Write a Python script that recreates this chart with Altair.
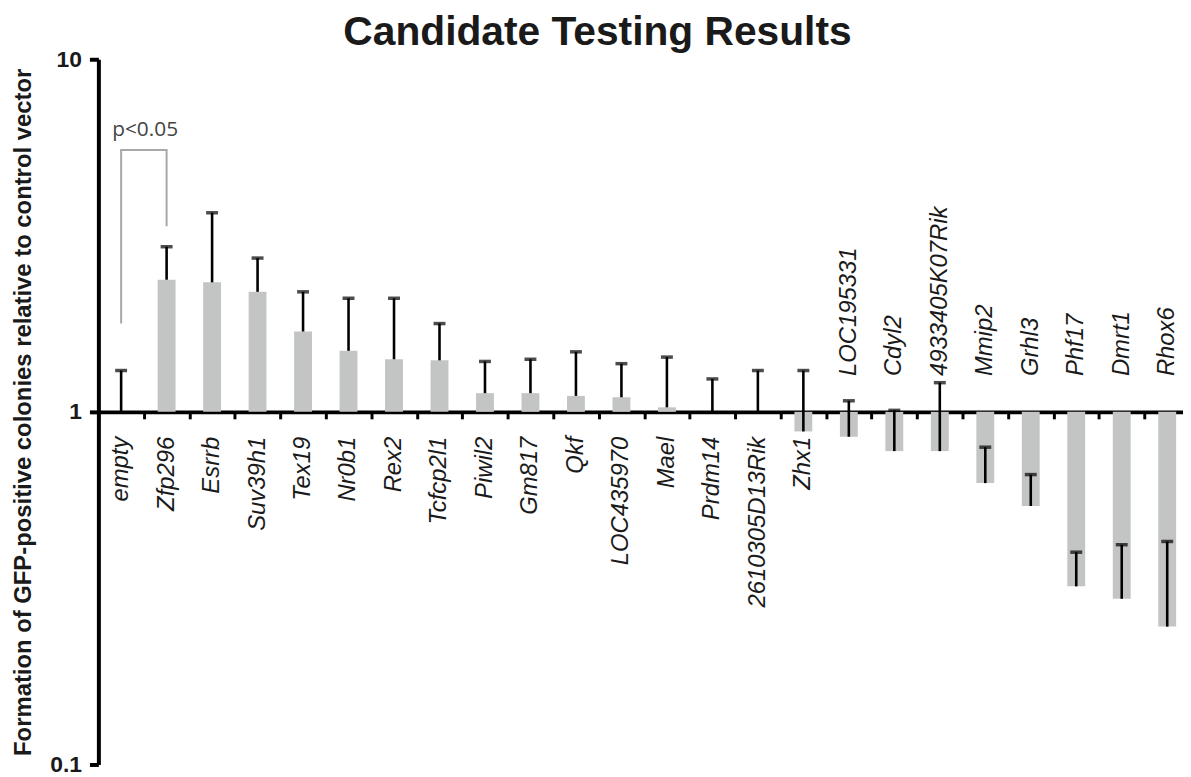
import altair as alt
import pandas as pd

genes = ["empty", "Zfp296", "Esrrb", "Suv39h1", "Tex19", "Nr0b1", "Rex2", "Tcfcp2l1",
         "Piwil2", "Gm817", "Qkf", "LOC435970", "Mael", "Prdm14", "2610305D13Rik", "Zhx1",
         "LOC195331", "Cdyl2", "4933405K07Rik", "Mmip2", "Grhl3", "Phf17", "Dmrt1", "Rhox6"]
values = [1.0, 2.37, 2.33, 2.19, 1.69, 1.49, 1.41, 1.40,
          1.13, 1.13, 1.11, 1.10, 1.03, 1.0, 1.0, 0.88,
          0.85, 0.774, 0.774, 0.628, 0.541, 0.32, 0.295, 0.246]
err_ends = [1.31, 2.94, 3.67, 2.73, 2.19, 2.10, 2.10, 1.78,
            1.39, 1.41, 1.48, 1.37, 1.43, 1.24, 1.31, 1.31,
            1.075, 1.01, 1.21, 0.794, 0.664, 0.40, 0.42, 0.429]
upper_label_genes = ["LOC195331", "Cdyl2", "4933405K07Rik", "Mmip2", "Grhl3", "Phf17", "Dmrt1", "Rhox6"]

bracket_x = ["empty", "empty", "Zfp296", "Zfp296"]
bracket_y = [1.78, 5.53, 5.53, 3.36]
bracket_order = [0, 1, 2, 3]
sig_text = "p<0.05"

df = pd.DataFrame({"gene": genes, "value": values, "err": err_ends, "base": [1.0] * len(genes)})
df["pos"] = ["upper" if g in upper_label_genes else "lower" for g in genes]
bracket = pd.DataFrame({"gene": bracket_x, "y": bracket_y, "o": bracket_order})
sig = pd.DataFrame({"gene": [bracket_x[1]], "y": [bracket_y[1]], "t": [sig_text]})

FONT = "Liberation Sans"
YTITLE = "Formation of GFP-positive colonies relative to control vector"

xscale = alt.Scale(domain=genes, paddingInner=0, paddingOuter=0)
xaxis = alt.Axis(labels=False, title=None, domain=True, domainColor="black", domainWidth=4,
                 ticks=True, tickBand="extent", tickSize=7, tickWidth=3, tickColor="black",
                 offset=-355, grid=False)
yscale = alt.Scale(type="log", domain=[0.1, 10])
yaxis = alt.Axis(values=[0.1, 1, 10], format="~g", grid=False, domainColor="black", domainWidth=4,
                 tickColor="black", tickWidth=4, tickSize=9, labelPadding=8,
                 labelFont=FONT, labelFontSize=23, labelFontWeight="bold", labelColor="#1a1a1a",
                 titleFont=FONT, titleFontSize=24, titleFontWeight="bold", titleColor="#1a1a1a",
                 titlePadding=14)


def X():
    return alt.X("gene:N", scale=xscale, axis=xaxis)


def Y(field):
    return alt.Y(field, type="quantitative", scale=yscale, axis=yaxis, title=YTITLE)


bars = alt.Chart(df).mark_bar(size=18, color="#c3c5c4").encode(
    x=X(), y=Y("value"), y2="base:Q")

err_line = alt.Chart(df).mark_rule(color="black", strokeWidth=2.6).encode(
    x=X(), y=Y("value"), y2="err:Q")

caps = alt.Chart(df).mark_tick(color="black", size=12, thickness=3.5, orient="horizontal").encode(
    x=X(), y=Y("err"))

lower_labels = alt.Chart(df).transform_filter(alt.datum.pos == "lower").mark_text(
    angle=270, align="right", baseline="middle", font=FONT, fontSize=24, fontStyle="italic",
    color="#1a1a1a", yOffset=25).encode(x=X(), y=Y("base"), text="gene:N")

upper_labels = alt.Chart(df).transform_filter(alt.datum.pos == "upper").mark_text(
    angle=270, align="left", baseline="middle", font=FONT, fontSize=24, fontStyle="italic",
    color="#1a1a1a", yOffset=-36).encode(x=X(), y=Y("base"), text="gene:N")

br = alt.Chart(bracket).mark_line(color="#a8a8a8", strokeWidth=2).encode(
    x=X(), y=Y("y"), order="o:Q")

sig_t = alt.Chart(sig).mark_text(align="left", baseline="alphabetic", font="Open Sans",
                                 fontSize=21, color="#444444", xOffset=-9, yOffset=-14).encode(
    x=X(), y=Y("y"), text="t:N")

chart = alt.layer(bars, err_line, caps, br, sig_t, lower_labels, upper_labels).properties(
    width=1099, height=710,
    background="white",
    title=alt.TitleParams("Candidate Testing Results", font=FONT, fontSize=41, fontWeight="bold",
                          color="#1a1a1a", dx=-47, offset=-6, anchor="middle", frame="group"),
    autosize=alt.AutoSizeParams(type="none"),
    padding={"left": 91, "top": 49, "right": -7, "bottom": 10},
).configure_view(stroke=None).configure_axis(grid=False)

chart.save("out.html", embed_options={"renderer": "svg", "actions": False})
